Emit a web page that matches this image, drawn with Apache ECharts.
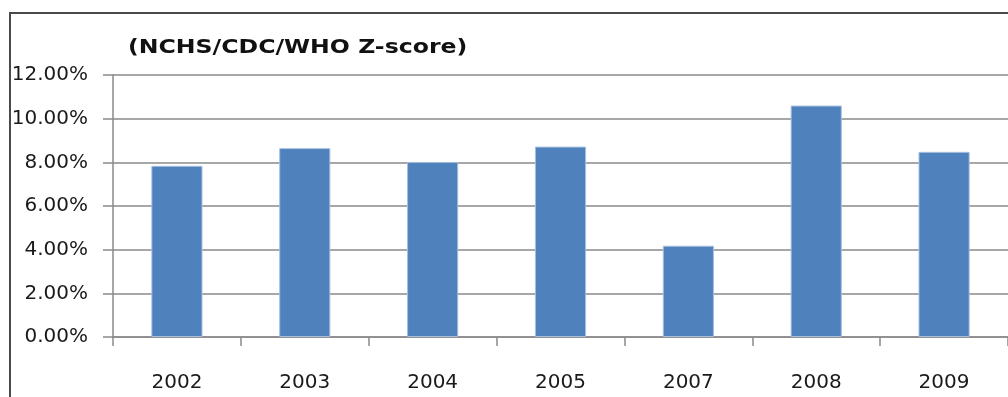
<!DOCTYPE html>
<html>
<head>
<meta charset="utf-8">
<script src="https://cdn.jsdelivr.net/npm/echarts@6/dist/echarts.min.js"></script>
<style>
  html, body { margin: 0; padding: 0; background: #fff; }
  #chart { width: 1008px; height: 397px; }
</style>
</head>
<body>
<div id="chart"></div>
<script>
const categories = ['2002', '2003', '2004', '2005', '2007', '2008', '2009'];
const values = [7.84, 8.65, 8.02, 8.72, 4.18, 10.6, 8.48];
const yMin = 0;
const yMax = 12;
const yInterval = 2;
const subtitleText = '(NCHS/CDC/WHO Z-score)';

const chart = echarts.init(document.getElementById('chart'), null, { renderer: 'canvas' });
const font = 'DejaVu Sans, Verdana, sans-serif';

chart.setOption({
  animation: false,
  backgroundColor: '#ffffff',
  grid: { left: 113, top: 75, width: 896, height: 262, containLabel: false },
  xAxis: {
    type: 'category',
    data: categories,
    boundaryGap: true,
    axisLine: { show: true, lineStyle: { color: '#8a8a8a', width: 1.5 } },
    axisTick: { show: true, alignWithLabel: false, length: 9, lineStyle: { color: '#8a8a8a', width: 1.5 } },
    axisLabel: { margin: 36, color: '#1a1a1a', fontFamily: font, fontSize: 20 },
    splitLine: { show: false }
  },
  yAxis: {
    type: 'value',
    min: yMin,
    max: yMax,
    interval: yInterval,
    axisLine: { show: true, lineStyle: { color: '#8a8a8a', width: 1.5 } },
    axisTick: { show: true, length: 10, lineStyle: { color: '#8a8a8a', width: 1.5 } },
    axisLabel: {
      margin: 25,
      color: '#1a1a1a',
      fontFamily: font,
      fontSize: 20,
      formatter: v => v.toFixed(2) + '%'
    },
    splitLine: { show: true, lineStyle: { color: '#8a8a8a', width: 1.5 } }
  },
  series: [{
    type: 'bar',
    data: values,
    barWidth: '40%',
    itemStyle: { color: '#4f81bd', borderColor: '#a6bfdd', borderWidth: 1 }
  }],
  graphic: [
    {
      type: 'rect',
      silent: true,
      shape: { x: 10, y: 13, width: 1100, height: 500 },
      style: { fill: 'none', stroke: '#4a4a4a', lineWidth: 2 }
    },
    {
      type: 'text',
      silent: true,
      x: 128,
      y: 48,
      scaleX: 1.18,
      style: {
        text: subtitleText,
        fontFamily: font,
        fontSize: 20,
        fontWeight: 'bold',
        fill: '#111',
        textAlign: 'left',
        textVerticalAlign: 'middle'
      }
    }
  ]
});
</script>
</body>
</html>
